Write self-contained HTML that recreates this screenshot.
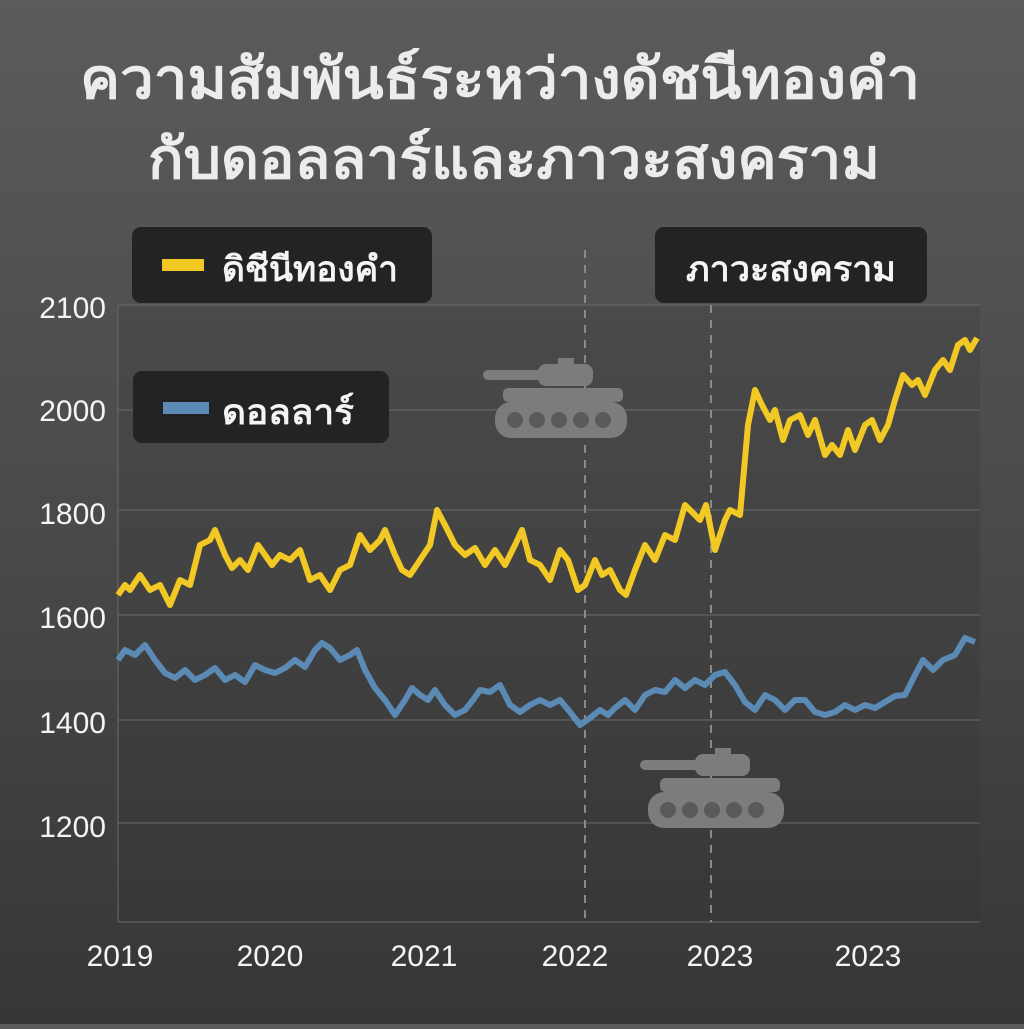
<!DOCTYPE html>
<html><head><meta charset="utf-8"><style>
html,body{margin:0;padding:0;}
body{width:1024px;height:1024px;overflow:hidden;background:linear-gradient(#5b5b5b,#4a4a4a 50%,#363636);font-family:"Liberation Sans","DejaVu Sans",sans-serif;}
</style></head><body>
<svg width="1024" height="1024" viewBox="0 0 1024 1024" xmlns="http://www.w3.org/2000/svg">
<rect x="118" y="305" width="862" height="617" fill="#2a2a2a" opacity="0.18"/>
<g stroke="#6a6a6a" stroke-width="1">
<line x1="118" y1="305" x2="980" y2="305"/><line x1="118" y1="410" x2="980" y2="410"/>
<line x1="118" y1="510" x2="980" y2="510"/><line x1="118" y1="615" x2="980" y2="615"/>
<line x1="118" y1="720" x2="980" y2="720"/><line x1="118" y1="823" x2="980" y2="823"/>
<line x1="118" y1="922" x2="980" y2="922"/><line x1="118" y1="305" x2="118" y2="922"/>
</g>
<g stroke="#8a8a8a" stroke-width="2" stroke-dasharray="8,7">
<line x1="585" y1="250" x2="585" y2="922"/><line x1="711" y1="305" x2="711" y2="922"/>
</g>
<g fill="#f4f4f4" font-size="30" text-anchor="end">
<text x="106" y="318">2100</text><text x="106" y="421">2000</text><text x="106" y="524">1800</text>
<text x="106" y="628">1600</text><text x="106" y="733">1400</text><text x="106" y="837">1200</text>
</g>
<g fill="#f4f4f4" font-size="30" text-anchor="middle">
<text x="120" y="966">2019</text><text x="270" y="966">2020</text><text x="424" y="966">2021</text>
<text x="575" y="966">2022</text><text x="720" y="966">2023</text><text x="868" y="966">2023</text>
</g>
<g fill="#7c7c7c">
<g transform="translate(483,358)">
<rect x="0" y="12" width="60" height="10" rx="5"/><rect x="55" y="6" width="55" height="22" rx="8"/>
<rect x="75" y="0" width="16" height="6"/><rect x="20" y="30" width="120" height="14" rx="5"/>
<rect x="12" y="44" width="132" height="36" rx="16"/>
</g>
<g transform="translate(640,748)">
<rect x="0" y="12" width="60" height="10" rx="5"/><rect x="55" y="6" width="55" height="22" rx="8"/>
<rect x="75" y="0" width="16" height="6"/><rect x="20" y="30" width="120" height="14" rx="5"/>
<rect x="8" y="44" width="136" height="36" rx="16"/>
</g>
</g>
<g fill="#5a5a5a">
<circle cx="515" cy="420" r="8"/><circle cx="537" cy="420" r="8"/><circle cx="559" cy="420" r="8"/><circle cx="581" cy="420" r="8"/><circle cx="603" cy="420" r="8"/>
<circle cx="668" cy="810" r="8"/><circle cx="690" cy="810" r="8"/><circle cx="712" cy="810" r="8"/><circle cx="734" cy="810" r="8"/><circle cx="756" cy="810" r="8"/>
</g>
<polyline fill="none" stroke="#f2c824" stroke-width="6" stroke-linejoin="round" points="118,595 125,585 130,590 140,575 150,590 160,585 170,605 180,580 190,585 200,545 210,540 215,530 225,555 232,568 240,560 248,570 258,545 265,555 272,565 280,555 290,560 300,550 310,580 320,575 330,590 340,570 350,565 360,535 370,550 380,540 385,530 395,555 402,570 410,575 420,560 430,545 437,510 445,525 455,545 465,555 475,548 485,565 495,550 505,565 515,545 522,530 530,560 540,565 550,580 560,550 568,560 578,590 585,585 595,560 602,575 610,570 620,590 626,595 635,570 645,545 655,560 665,535 675,540 685,505 690,510 700,520 706,505 715,550 725,520 730,510 740,515 748,425 755,390 762,405 770,420 775,410 783,440 790,420 800,415 808,435 815,420 825,455 832,445 840,455 848,430 855,450 865,425 872,420 880,440 888,425 895,400 903,375 912,385 918,380 925,395 935,370 943,360 950,370 958,345 965,340 970,350 977,338"/>
<polyline fill="none" stroke="#5b8ab4" stroke-width="6" stroke-linejoin="round" points="118,660 125,650 135,655 145,645 155,660 165,673 175,678 185,670 195,680 205,675 215,668 225,680 235,675 245,682 255,665 265,670 275,673 285,668 295,660 305,667 315,650 322,643 330,648 340,660 350,655 357,650 365,670 375,688 385,700 395,715 405,700 412,688 420,695 428,700 435,690 445,705 455,715 465,710 473,700 480,690 490,692 500,685 510,705 520,712 530,705 540,700 550,705 560,700 570,712 580,725 590,718 600,710 608,715 615,708 625,700 635,710 645,695 655,690 665,692 675,680 685,688 695,680 705,685 715,675 725,672 735,685 745,702 755,710 765,695 775,700 785,710 795,700 805,700 815,712 825,715 835,712 845,705 855,710 865,705 875,708 885,702 895,696 905,695 915,675 923,660 933,670 943,660 955,655 965,638 975,642"/>
<g fill="#ececec" font-size="56" font-weight="bold">
<text x="80" y="98" textLength="840" lengthAdjust="spacingAndGlyphs">ความสัมพันธ์ระหว่างดัชนีทองคำ</text>
<text x="148" y="178" textLength="732" lengthAdjust="spacingAndGlyphs">กับดอลลาร์และภาวะสงคราม</text>
</g>
<rect x="132" y="227" width="300" height="76" rx="9" fill="#232323"/>
<rect x="162" y="259" width="42" height="12" fill="#f2c824"/>
<text x="222" y="281" fill="#f4f4f4" font-size="35" font-weight="bold" textLength="176" lengthAdjust="spacingAndGlyphs">ดิชีนีทองคำ</text>
<rect x="655" y="227" width="272" height="76" rx="9" fill="#232323"/>
<text x="686" y="281" fill="#f4f4f4" font-size="35" font-weight="bold" textLength="210" lengthAdjust="spacingAndGlyphs">ภาวะสงคราม</text>
<rect x="133" y="371" width="256" height="72" rx="9" fill="#232323"/>
<rect x="163" y="402" width="46" height="12" fill="#5b8ab4"/>
<text x="222" y="424" fill="#f4f4f4" font-size="35" font-weight="bold" textLength="132" lengthAdjust="spacingAndGlyphs">ดอลลาร์</text>
</svg>
</body></html>
